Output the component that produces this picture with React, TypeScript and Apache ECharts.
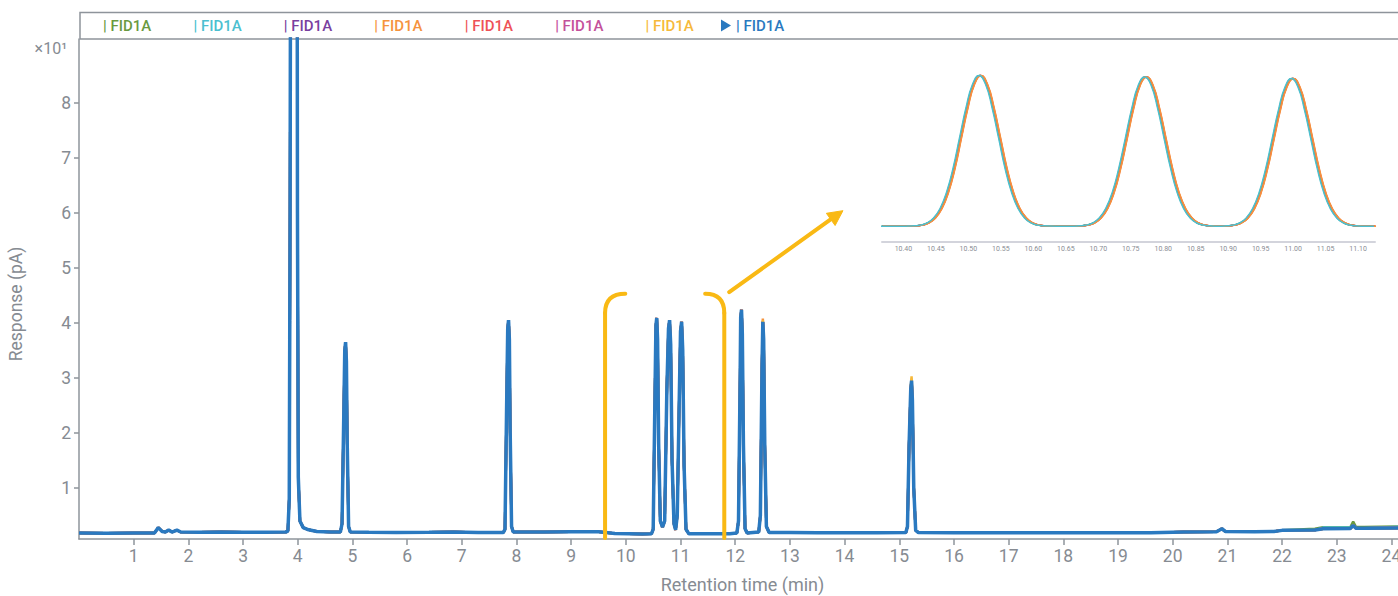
import React, { useEffect, useRef } from 'react';
import * as echarts from 'echarts';

// ---------- data ----------
const traceNames = ['FID1A 1', 'FID1A 2', 'FID1A 3', 'FID1A 4', 'FID1A 5', 'FID1A 6', 'FID1A 7', 'FID1A 8'];
const traceColors = ['#6a9a3f', '#4cbfd0', '#7a3f9f', '#f5933d', '#ee5257', '#c4519b', '#f6b93b', '#2a79c0'];
const legendLabel = '| FID1A';

const xTicks = [1, 2, 3, 4, 5, 6, 7, 8, 9, 10, 11, 12, 13, 14, 15, 16, 17, 18, 19, 20, 21, 22, 23, 24];
const yTicks = [10, 20, 30, 40, 50, 60, 70, 80];
const insetTicks = [10.4, 10.45, 10.5, 10.55, 10.6, 10.65, 10.7, 10.75, 10.8, 10.85, 10.9, 10.95, 11.0, 11.05, 11.1];

// main chromatogram (time in min, response in pA) - topmost blue trace
const blueTrace: [number, number][] = [
  [0.0, 1.8], [0.5, 1.78], [1.0, 1.8], [1.38, 1.8], [1.45, 2.8], [1.52, 2.1], [1.58, 2.0], [1.64, 2.35], [1.7, 2.0],
  [1.79, 2.35], [1.86, 2.0], [2.2, 1.95], [2.6, 1.98], [3.0, 1.95], [3.4, 1.97], [3.78, 1.98],
  [3.82, 2.2], [3.845, 8], [3.86, 60], [3.875, 150], [3.93, 320], [3.985, 150], [3.995, 60], [4.01, 12], [4.04, 4.0],
  [4.1, 2.8], [4.2, 2.4], [4.35, 2.1], [4.6, 2.0], [4.78, 2.0],
  [4.81, 3.5], [4.84, 22], [4.86, 35], [4.875, 36.5], [4.89, 33], [4.905, 18], [4.93, 3], [4.96, 2.0],
  [5.3, 1.95], [5.8, 1.9], [6.4, 1.95], [6.85, 2.0], [7.3, 1.9], [7.76, 1.9],
  [7.79, 2.5], [7.82, 25], [7.84, 39], [7.855, 40.5], [7.87, 37], [7.885, 20], [7.91, 3], [7.94, 2.0],
  [8.5, 2.0], [9.0, 2.05], [9.5, 2.05], [9.8, 1.75], [10.3, 1.65], [10.47, 1.7],
  [10.5, 2.5], [10.53, 25], [10.55, 39.5], [10.565, 40.9], [10.58, 37], [10.6, 18], [10.63, 4], [10.67, 2.9],
  [10.71, 4], [10.75, 28], [10.78, 39], [10.8, 40.5], [10.82, 36], [10.845, 15], [10.88, 3.5], [10.91, 2.4],
  [10.94, 5], [10.98, 28], [11.0, 38.5], [11.02, 40.2], [11.04, 35], [11.065, 14], [11.1, 2.5], [11.15, 1.7],
  [11.5, 1.7], [11.9, 1.7], [12.03, 1.8],
  [12.06, 4], [12.09, 30], [12.1, 41], [12.115, 42.4], [12.13, 38], [12.15, 18], [12.18, 2.6], [12.22, 1.8],
  [12.43, 2.0], [12.46, 5], [12.49, 32], [12.505, 40.2], [12.52, 37], [12.54, 18], [12.57, 3], [12.62, 1.9],
  [13.0, 1.9], [13.5, 1.88], [14.0, 1.85], [14.6, 1.85], [15.12, 1.9],
  [15.15, 3], [15.18, 18], [15.21, 28], [15.225, 29.5], [15.24, 26], [15.265, 10], [15.3, 2.3], [15.35, 1.9],
  [16, 1.88], [17, 1.87], [18, 1.85], [19, 1.87], [19.6, 1.88], [20.2, 2.0], [20.8, 2.05], [20.9, 2.6], [20.96, 2.1],
  [21.5, 2.05], [21.85, 2.1], [22.0, 2.3], [22.6, 2.35], [22.75, 2.6], [23.25, 2.65], [23.3, 3.2], [23.35, 2.7],
  [23.5, 2.7], [24.12, 2.75],
];

// where the other injections differ visibly from the blue trace
const traceOverrides: [number, number][][] = [
  [[22.6, 2.6], [22.75, 2.85], [23.25, 2.9], [23.3, 3.9], [23.35, 2.95], [23.5, 2.9], [24.12, 3.0]],
  [[22.75, 2.8], [23.25, 2.85], [24.12, 2.95]],
  [],
  [[12.505, 40.8], [15.225, 29.9]],
  [],
  [],
  [[15.225, 30.3], [12.505, 40.5]],
  [],
];

// zoomed inset (10.37 - 11.13 min)
const insetBlue: [number, number][] = [
  [10.367, 1.8], [10.39, 1.78], [10.405, 1.82], [10.418, 1.92], [10.428, 2.11], [10.438, 2.66], [10.448, 3.95],
  [10.458, 6.4], [10.468, 10.6], [10.478, 16.8], [10.488, 24.7], [10.498, 32.5], [10.508, 38.5], [10.518, 40.8],
  [10.528, 38.5], [10.538, 32.5], [10.548, 24.7], [10.558, 16.8], [10.568, 10.6], [10.578, 6.4], [10.588, 3.95],
  [10.598, 2.66], [10.608, 2.11], [10.618, 1.92], [10.64, 1.8], [10.66, 1.78],
  [10.673, 1.92], [10.683, 2.11], [10.693, 2.65], [10.703, 3.92], [10.713, 6.35], [10.723, 10.5], [10.733, 16.7],
  [10.743, 24.4], [10.753, 32.2], [10.763, 38.2], [10.773, 40.4], [10.783, 38.2], [10.793, 32.2], [10.803, 24.4],
  [10.813, 16.7], [10.823, 10.5], [10.833, 6.35], [10.843, 3.92], [10.853, 2.65], [10.863, 2.11], [10.873, 1.92],
  [10.886, 1.8],
  [10.899, 1.91], [10.909, 2.11], [10.919, 2.64], [10.929, 3.9], [10.939, 6.3], [10.949, 10.4], [10.959, 16.5],
  [10.969, 24.2], [10.979, 31.9], [10.989, 37.8], [10.999, 40.0], [11.009, 37.8], [11.019, 31.9], [11.029, 24.2],
  [11.039, 16.5], [11.049, 10.4], [11.059, 6.3], [11.069, 3.9], [11.079, 2.64], [11.089, 2.11], [11.099, 1.91],
  [11.112, 1.8], [11.126, 1.8],
];
const insetShifts = [-0.0008, -0.0016, 0.0004, 0.0016, 0.0012, 0.0002, 0.0008, 0];

// annotation anchors in main-chart data units
const bracketLeftX = 9.62;
const bracketLeftEndX = 9.99;
const bracketRightX = 11.8;
const bracketRightEndX = 11.45;
const bracketBottomY = 0.9;
const bracketCornerY = 41.8;
const bracketTopY = 45.3;
const arrowStart: [number, number] = [11.89, 45.6];
const arrowTip: [number, number] = [13.97, 60.4];

const AXIS = '#8e949b';
const LABEL = '#868b92';
const ANNOT = '#f9b914';
const FONT = 'Roboto, "Noto Sans", sans-serif';

export default function App() {
  const ref = useRef<HTMLDivElement>(null);

  useEffect(() => {
    if (!ref.current) return;
    const chart = echarts.init(ref.current, undefined, { renderer: 'svg' });

    const mainSeries = traceNames.map((name, i) => {
      const over = new Map(traceOverrides[i].map(([t, v]) => [t, v] as [number, number]));
      const data = blueTrace.map(([t, v]) => [t, over.has(t) ? over.get(t)! : v]);
      return {
        type: 'line',
        name,
        xAxisIndex: 0,
        yAxisIndex: 0,
        data,
        symbol: 'none',
        clip: true,
        lineStyle: { color: traceColors[i], width: i === 7 ? 3.5 : 2.5 },
        itemStyle: { color: traceColors[i] },
        z: 2,
      };
    });

    const insetOrder = [7, 2, 5, 0, 6, 4, 3, 1];
    const insetSeries = insetOrder.map((i, k) => ({
      type: 'line',
      name: traceNames[i],
      xAxisIndex: 1,
      yAxisIndex: 1,
      data: insetBlue.map(([t, v]) => [t + insetShifts[i], v]),
      symbol: 'none',
      smooth: true,
      clip: true,
      lineStyle: { color: traceColors[i], width: 1.5 },
      itemStyle: { color: traceColors[i] },
      z: 3 + k,
    }));

    chart.setOption({
      animation: false,
      backgroundColor: '#ffffff',
      textStyle: { fontFamily: FONT },
      legend: {
        left: 83,
        top: 13,
        itemWidth: 10,
        itemHeight: 12,
        itemGap: 27.2,
        formatter: () => legendLabel,
        textStyle: { fontSize: 15, fontFamily: FONT, fontWeight: 500 },
        data: traceNames.map((name, i) => ({
          name,
          icon: i === 7 ? 'path://M0,0L10,6L0,12Z' : 'rect',
          itemStyle: i === 7 ? { color: traceColors[i] } : { color: 'rgba(0,0,0,0)', opacity: 0 },
          textStyle: { color: traceColors[i] },
        })),
      },
      grid: [
        { left: 79, right: 0, top: 39, bottom: 57, outerBoundsMode: 'none', containLabel: false },
        { left: 882, top: 70, width: 493, height: 172, outerBoundsMode: 'none', containLabel: false },
      ],
      xAxis: [
        {
          type: 'value',
          gridIndex: 0,
          min: 0,
          max: 24.12,
          name: 'Retention time (min)',
          nameLocation: 'middle',
          nameGap: 36,
          nameTextStyle: { color: LABEL, fontSize: 18, fontFamily: FONT, padding: [0, 0, 0, 8] },
          axisLine: { show: true, onZero: false, lineStyle: { color: AXIS, width: 1.5 } },
          axisTick: { show: true, length: 6, customValues: xTicks, lineStyle: { color: AXIS, width: 1.5 } },
          axisLabel: { customValues: xTicks, color: LABEL, fontSize: 17.5, fontFamily: FONT, margin: 8 },
          splitLine: { show: false },
        },
        {
          type: 'value',
          gridIndex: 1,
          min: 10.367,
          max: 11.126,
          axisLine: { show: true, onZero: false, lineStyle: { color: '#d3d4dc', width: 2 } },
          axisTick: { show: false },
          axisLabel: {
            customValues: insetTicks,
            color: '#8a8d94',
            fontSize: 7,
            fontFamily: FONT,
            margin: 3,
            formatter: (v: number) => v.toFixed(2),
          },
          splitLine: { show: false },
        },
      ],
      yAxis: [
        {
          type: 'value',
          gridIndex: 0,
          min: 0.73,
          max: 91.6,
          name: 'Response (pA)',
          nameLocation: 'middle',
          nameGap: 54,
          nameRotate: 90,
          nameTextStyle: { color: LABEL, fontSize: 17.5, fontFamily: FONT, padding: [0, 30, 0, 0] },
          axisLine: { show: true, lineStyle: { color: AXIS, width: 1.5 } },
          axisTick: { show: true, length: 5, customValues: yTicks, lineStyle: { color: AXIS, width: 1.5 } },
          axisLabel: {
            customValues: yTicks,
            color: LABEL,
            fontSize: 17.5,
            fontFamily: FONT,
            formatter: (v: number) => String(Math.round(v / 10)),
          },
          splitLine: { show: false },
        },
        {
          type: 'value',
          gridIndex: 1,
          min: -2.27,
          max: 42.2,
          show: false,
          splitLine: { show: false },
        },
      ],
      series: [...mainSeries, ...insetSeries],
    });

    const px = (p: [number, number]) => chart.convertToPixel({ gridIndex: 0 }, p) as number[];
    const lb = px([bracketLeftX, bracketBottomY]);
    const lc = px([bracketLeftX, bracketCornerY]);
    const lk = px([bracketLeftX, bracketTopY]);
    const le = px([bracketLeftEndX, bracketTopY]);
    const rb = px([bracketRightX, bracketBottomY]);
    const rc = px([bracketRightX, bracketCornerY]);
    const rk = px([bracketRightX, bracketTopY]);
    const re = px([bracketRightEndX, bracketTopY]);
    const as = px(arrowStart);
    const at = px(arrowTip);
    const dx = at[0] - as[0];
    const dy = at[1] - as[1];
    const len = Math.hypot(dx, dy);
    const ux = dx / len;
    const uy = dy / len;
    const headL = 15;
    const headW = 7.5;
    const bx = at[0] - ux * headL;
    const by = at[1] - uy * headL;

    const annotStyle = { stroke: ANNOT, lineWidth: 4, fill: 'none', lineCap: 'round' };
    chart.setOption({
      graphic: [
        {
          type: 'rect',
          z: -1,
          shape: { x: 80, y: 12.5, width: 1330, height: 26.5 },
          style: { fill: 'none', stroke: AXIS, lineWidth: 1.5 },
          silent: true,
        },
        {
          type: 'text',
          x: 67,
          y: 48,
          style: { text: '×10¹', fill: LABEL, fontSize: 16, fontFamily: FONT, align: 'right', verticalAlign: 'middle' },
          silent: true,
        },
        { type: 'line', shape: { x1: lb[0], y1: lb[1], x2: lc[0], y2: lc[1] }, style: annotStyle, z: 50 },
        {
          type: 'bezierCurve',
          shape: { x1: lc[0], y1: lc[1], cpx1: lk[0], cpy1: lk[1], x2: le[0], y2: le[1] },
          style: annotStyle,
          z: 50,
        },
        { type: 'line', shape: { x1: rb[0], y1: rb[1], x2: rc[0], y2: rc[1] }, style: annotStyle, z: 50 },
        {
          type: 'bezierCurve',
          shape: { x1: rc[0], y1: rc[1], cpx1: rk[0], cpy1: rk[1], x2: re[0], y2: re[1] },
          style: annotStyle,
          z: 50,
        },
        { type: 'line', shape: { x1: as[0], y1: as[1], x2: bx + ux * 2, y2: by + uy * 2 }, style: annotStyle, z: 50 },
        {
          type: 'polygon',
          shape: {
            points: [
              [at[0], at[1]],
              [bx - uy * headW, by + ux * headW],
              [bx + uy * headW, by - ux * headW],
            ],
          },
          style: { fill: ANNOT, stroke: ANNOT, lineWidth: 1 },
          z: 50,
        },
      ],
    });

    return () => chart.dispose();
  }, []);

  return <div ref={ref} style={{ width: 1398, height: 596, position: 'absolute', left: 0, top: 0 }} />;
}
